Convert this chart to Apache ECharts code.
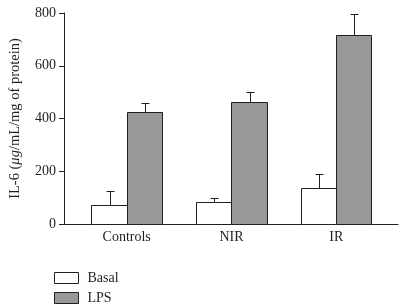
<!DOCTYPE html>
<html>
<head>
<meta charset="utf-8">
<script src="https://cdn.jsdelivr.net/npm/echarts@6/dist/echarts.min.js"></script>
<style>html,body{margin:0;padding:0;background:#fff;}#c{width:408px;height:306px;}</style>
</head>
<body>
<div id="c"></div>
<script>
const categories = ['Controls', 'NIR', 'IR'];
const basal = [73, 82, 138];
const basalErr = [53, 17, 52];
const lps = [425, 463, 718];
const lpsErr = [35, 36, 77];
const yTicks = [0, 200, 400, 600, 800];

const FONT = '"Liberation Serif", "DejaVu Serif", serif';
const TXT = '#231f20';
const BAR_W = 0.336;

function makeRender(offset, fill) {
  return function (params, api) {
    const x = api.value(0), v = api.value(1), e = api.value(2);
    const p0 = api.coord([x + offset, 0]);
    const p1 = api.coord([x + offset + BAR_W, v]);
    const pc = api.coord([x + offset + BAR_W / 2, v + e]);
    const x0 = Math.round(p0[0]) + 0.5, x1 = Math.round(p1[0]) + 0.5;
    const yb = Math.round(p0[1]) + 0.5, yt = Math.round(p1[1]) + 0.5;
    const cx = Math.round((x0 + x1) / 2) + 0.5, ye = Math.round(pc[1]) + 0.5;
    return {
      type: 'group',
      children: [
        { type: 'line', shape: { x1: cx, y1: yt, x2: cx, y2: ye }, style: { stroke: '#231f20', lineWidth: 1 } },
        { type: 'line', shape: { x1: cx - 4, y1: ye, x2: cx + 4, y2: ye }, style: { stroke: '#231f20', lineWidth: 1 } },
        { type: 'rect', shape: { x: x0, y: yt, width: x1 - x0, height: yb - yt }, style: { fill: fill, stroke: '#231f20', lineWidth: 1 } }
      ]
    };
  };
}

const chart = echarts.init(document.getElementById('c'), null, { renderer: 'canvas' });
chart.setOption({
  animation: false,
  backgroundColor: '#fff',
  grid: { left: 57, right: 10, top: 13, bottom: 82, containLabel: false },
  xAxis: {
    type: 'value',
    min: -0.598,
    max: 2.589,
    splitLine: { show: false },
    axisLine: { show: true, onZero: false, lineStyle: { color: '#231f20', width: 1 } },
    axisTick: { show: false },
    axisLabel: {
      customValues: [0, 1, 2],
      formatter: function (v) { return categories[Math.round(v)]; },
      color: TXT, fontFamily: FONT, fontSize: 14, margin: 6
    }
  },
  yAxis: {
    type: 'value',
    min: 0, max: 800, interval: 200,
    name: 'IL-6 ({i|μg}/mL/mg of protein)',
    nameLocation: 'middle',
    nameGap: 41,
    nameTextStyle: {
      color: TXT, fontFamily: FONT, fontSize: 14.5,
      rich: { i: { fontStyle: 'italic', color: TXT, fontFamily: FONT, fontSize: 14.5 } }
    },
    splitLine: { show: false },
    axisLine: { show: true, onZero: false, lineStyle: { color: '#231f20', width: 1 } },
    axisTick: { show: true, length: 5, lineStyle: { color: '#231f20' } },
    axisLabel: { color: TXT, fontFamily: FONT, fontSize: 14, margin: 8,
      formatter: function (v) { return yTicks.indexOf(v) >= 0 ? String(v) : ''; } }
  },
  legend: {
    orient: 'vertical',
    left: 54, top: 271, padding: 0,
    itemWidth: 24, itemHeight: 11, itemGap: 6,
    textStyle: { color: TXT, fontFamily: FONT, fontSize: 14, padding: [0, 0, 0, 4] },
    data: [
      { name: 'Basal', icon: 'rect', itemStyle: { color: '#ffffff', borderColor: '#231f20', borderWidth: 1 } },
      { name: 'LPS', icon: 'rect', itemStyle: { color: '#999999', borderColor: '#231f20', borderWidth: 1 } }
    ]
  },
  series: [
    {
      name: 'Basal', type: 'custom',
      itemStyle: { color: '#ffffff', borderColor: '#231f20' },
      renderItem: makeRender(-BAR_W, '#ffffff'),
      data: categories.map((c, i) => [i, basal[i], basalErr[i]])
    },
    {
      name: 'LPS', type: 'custom',
      itemStyle: { color: '#999999', borderColor: '#231f20' },
      renderItem: makeRender(0, '#999999'),
      data: categories.map((c, i) => [i, lps[i], lpsErr[i]])
    }
  ]
});
</script>
</body>
</html>
